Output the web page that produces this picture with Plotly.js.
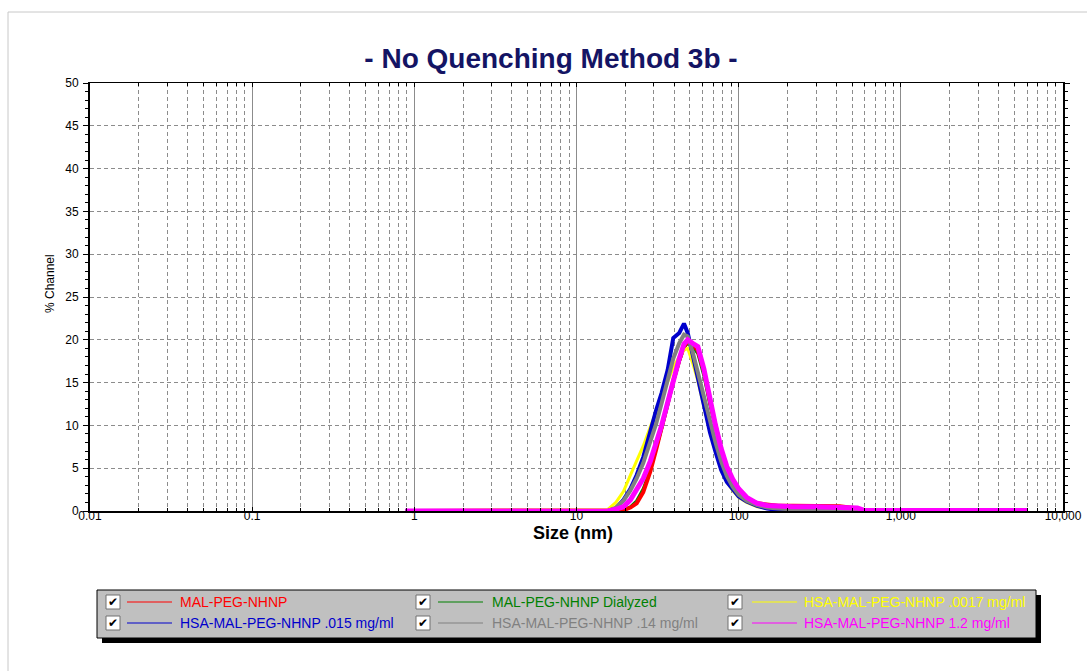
<!DOCTYPE html>
<html><head><meta charset="utf-8">
<script src="https://cdn.plot.ly/plotly-3.0.1.min.js"></script>
<style>html,body{margin:0;padding:0;background:#fff}#chart{width:1087px;height:671px}</style>
</head><body><div id="chart"></div>
<script>
// Particle size channels (nm)
const sizes = [0.88, 15.6, 17.5, 19.5, 21.5, 23.5, 25.8, 28.5, 31, 33.5, 36.5, 39.5, 43, 46, 48.5, 52, 56, 61, 66.5, 72, 78, 84.5, 92, 100, 112, 130, 150, 175, 216, 300, 420, 540, 600, 6000];

// % Channel values per sample
const malPeg        = [0,0,0,0.1,0.4,0.9,2.2,4.6,7.2,9.8,12.6,15.2,17.6,19.2,19.8,19.4,18.8,16.4,12.8,9.8,7.2,5.0,3.5,2.4,1.5,0.9,0.7,0.6,0.6,0.6,0.55,0.3,0,0];
const malPegDial    = [0,0,0,0.1,0.5,1.2,2.6,4.8,7.2,9.6,12.3,15,17.4,19.1,19.6,19.2,18.4,15.8,12.4,9.6,7.0,4.9,3.4,2.3,1.4,0.8,0.5,0.4,0.3,0.2,0.1,0,0,0];
const hsa0017       = [0,0.2,1.0,2.3,4.2,5.9,7.6,9.8,11.6,13.4,15.2,16.8,18,18.8,19.0,17.3,15.2,12.2,9.3,6.9,4.9,3.4,2.4,1.6,1.0,0.5,0.3,0.15,0,0,0,0,0,0];
const hsa015        = [0,0,0.3,1.3,2.6,4.2,6.3,9.4,11.8,13.8,16.5,20.2,20.8,21.9,20.8,18.3,15.5,12,9.2,6.9,4.8,3.4,2.5,1.7,1.1,0.6,0.3,0.1,0,0,0,0,0,0];
const hsa14         = [0,0,0.4,1.2,2.4,3.8,5.6,8.0,10.2,12.6,15.3,17.8,19.6,20.6,20.4,18.6,16.2,13.6,10.6,8.0,5.8,4.1,2.8,1.9,1.2,0.7,0.4,0.3,0.2,0,0,0,0,0];
const hsa12         = [0,0,0.2,0.5,1.3,2.5,3.8,5.8,7.8,10,12.7,15.4,17.8,19.5,20,19.6,19.2,16.6,13,10,7.3,5.2,3.7,2.6,1.6,0.9,0.65,0.55,0.5,0.5,0.45,0.35,0.05,0.05];

const names  = ['MAL-PEG-NHNP','MAL-PEG-NHNP Dialyzed','HSA-MAL-PEG-NHNP .0017 mg/ml','HSA-MAL-PEG-NHNP .015 mg/ml','HSA-MAL-PEG-NHNP .14 mg/ml','HSA-MAL-PEG-NHNP 1.2 mg/ml'];
const colors = ['#ff0000','#008000','#ffff00','#0000cc','#808080','#ff00ff'];
const series = [malPeg, malPegDial, hsa0017, hsa015, hsa14, hsa12];
const widths = [4, 3, 3, 4, 4, 5];
const drawOrder = [1, 0, 2, 3, 4, 5];

const xTickVals = [0.01, 0.1, 1, 10, 100, 1000, 10000];
const xTickText = ['0.01','0.1','1','10','100','1,000','10,000'];

const FONT = 'Liberation Sans, Arial, sans-serif';

// pixel -> paper helpers (plot area 90..1063 x 83..511)
const L = 90, R = 1063, T = 83, B = 511;
const X = px => (px - L) / (R - L);
const Y = py => (B - py) / (B - T);

const traces = drawOrder.map(i => ({
  type: 'scatter', mode: 'lines', x: sizes, y: series[i], name: names[i],
  line: {color: colors[i], width: widths[i]}, showlegend: false, hoverinfo: 'skip'
}));

const shapes = [
  {type:'rect', xref:'paper', yref:'paper', x0:X(8), x1:X(1100), y0:Y(12), y1:Y(690), line:{color:'#c8c8c8', width:1}, fillcolor:'rgba(0,0,0,0)', layer:'below'},
  {type:'rect', xref:'paper', yref:'paper', x0:X(102), x1:X(1041), y0:Y(595), y1:Y(643), line:{width:0}, fillcolor:'#000'},
  {type:'rect', xref:'paper', yref:'paper', x0:X(97), x1:X(1036), y0:Y(590), y1:Y(638), line:{color:'#000', width:1}, fillcolor:'#c0c0c0'}
];
const annotations = [
  {xref:'paper', yref:'paper', x:X(573), y:Y(533), text:'Size (nm)', showarrow:false, xanchor:'center', yanchor:'middle',
   font:{family:FONT, size:18, color:'#000', weight:'bold'}},
  {xref:'paper', yref:'paper', x:X(50), y:Y(284), text:'% Channel', showarrow:false, xanchor:'center', yanchor:'middle', textangle:-90,
   font:{family:FONT, size:12, color:'#000'}}
];

const colBox = [106, 416, 728], colLine = [[127,172],[438,483],[752,797]], colText = [178, 490, 802];
const rowY = [602, 623];
names.forEach((nm, i) => {
  const r = Math.floor(i / 3), c = i % 3, cy = rowY[r];
  shapes.push({type:'rect', xref:'paper', yref:'paper', x0:X(colBox[c]), x1:X(colBox[c]+14), y0:Y(cy-7), y1:Y(cy+7),
               line:{color:'#707070', width:1}, fillcolor:'#fff'});
  shapes.push({type:'line', xref:'paper', yref:'paper', x0:X(colLine[c][0]), x1:X(colLine[c][1]), y0:Y(cy), y1:Y(cy),
               line:{color:colors[i], width:1.2}});
  annotations.push({xref:'paper', yref:'paper', x:X(colBox[c]+7), y:Y(cy), text:'✔', showarrow:false, xanchor:'center', yanchor:'middle',
                    font:{family:'DejaVu Sans', size:12, color:'#000'}});
  annotations.push({xref:'paper', yref:'paper', x:X(colText[c]), y:Y(cy), text:nm, showarrow:false, xanchor:'left', yanchor:'middle',
                    font:{family:FONT, size:14, color:colors[i]}});
});

const layout = {
  width: 1087, height: 671,
  margin: {l: L, r: 1087 - R, t: T, b: 671 - B, pad: 0},
  paper_bgcolor: '#fff', plot_bgcolor: '#fff',
  title: {text: '- No Quenching Method 3b -', xref: 'container', x: 551/1087, xanchor: 'center',
          yref: 'container', y: 1 - 58/671, yanchor: 'middle',
          font: {family: FONT, size: 28, color: '#141464', weight: 'bold'}},
  xaxis: {
    type: 'log', range: [-2, 4], tickmode: 'array', tickvals: xTickVals, ticktext: xTickText,
    showgrid: true, gridcolor: '#8c8c8c', gridwidth: 1,
    minor: {dtick: 'D1', showgrid: true, gridcolor: '#8c8c8c', gridwidth: 1, griddash: '4px,3px', ticks: 'inside', ticklen: 3, tickcolor: '#000'},
    ticks: 'inside', ticklen: 4, tickcolor: '#000', showline: true, linecolor: '#000', linewidth: 1.5, mirror: 'allticks', zeroline: false,
    ticklabelstandoff: -7,
    tickfont: {family: FONT, size: 12, color: '#000'}
  },
  yaxis: {
    range: [0, 50], tickmode: 'linear', tick0: 0, dtick: 5,
    showgrid: true, gridcolor: '#8c8c8c', gridwidth: 1, griddash: '4px,3px',
    minor: {dtick: 1, ticks: 'outside', ticklen: 3, tickcolor: '#000', showgrid: false},
    ticks: 'outside', ticklen: 5, tickcolor: '#000', showline: true, linecolor: '#000', linewidth: 2, mirror: 'allticks', zeroline: false,
    ticklabelstandoff: 2,
    tickfont: {family: FONT, size: 12, color: '#000'}
  },
  shapes: shapes, annotations: annotations, showlegend: false
};

Plotly.newPlot('chart', traces, layout, {staticPlot: true, displayModeBar: false});
</script></body></html>
